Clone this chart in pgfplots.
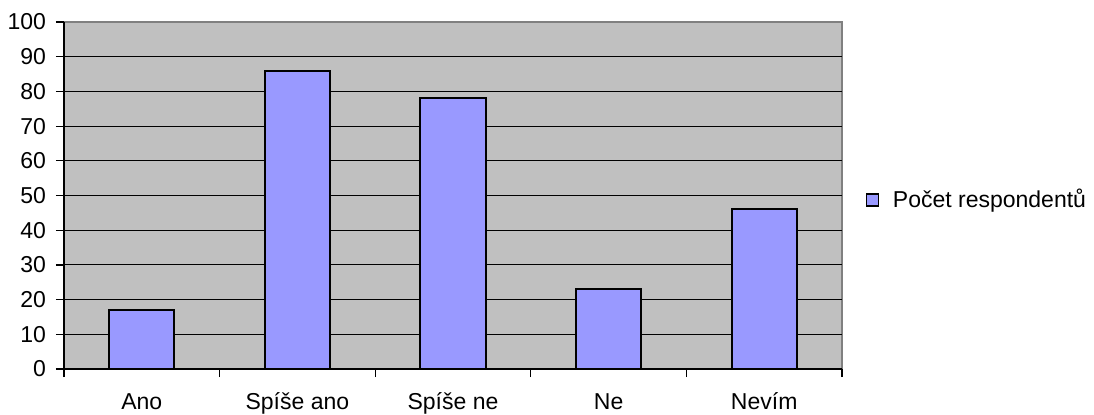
\documentclass[border=0pt]{standalone}
\usepackage{fontspec}
\setmainfont{Liberation Sans}
\usepackage{pgfplots}
\pgfplotsset{compat=1.18}

\definecolor{plotbg}{HTML}{C0C0C0}
\definecolor{plotedge}{HTML}{808080}
\definecolor{barfill}{HTML}{9999FF}

\begin{document}
\fontsize{11.5}{13}\selectfont
\begin{tikzpicture}
\begin{axis}[
    ybar,
    width=389pt, height=173.5pt,
    scale only axis,
    bar width=0.418,
    xmin=-0.5, xmax=4.5,
    ymin=0, ymax=100,
    axis x line*=bottom,
    axis y line*=left,
    axis line style={black, line width=0.6pt, -},
    axis background/.style={fill=plotbg, draw=plotedge, line width=1pt},
    xtick={0,1,2,3,4},
    xticklabels={Ano, Spíše ano, Spíše ne, Ne, Nevím},
    major x tick style={draw=none},
    minor xtick={-0.5,0.5,1.5,2.5,3.5,4.5},
    minor x tick style={black, line width=0.6pt},
    minor tick length=4pt,
    ytick={0,10,...,90},
    extra y ticks={100},
    extra y tick style={grid=none},
    ymajorgrids,
    y grid style={black, line width=0.5pt},
    major y tick style={black, line width=0.6pt},
    major tick length=4pt,
    tick align=outside,
    /pgf/number format/assume math mode=true,
    yticklabel style={xshift=-1pt},
    xticklabel style={anchor=base, yshift=-16pt},
    legend style={at={(1.03,0.487)}, anchor=west, draw=none, fill=none,
        inner sep=0pt},
    legend image code/.code={\draw[#1, line width=0.6pt] (0pt,-3pt) rectangle (6pt,3pt);},
]
\addplot[fill=barfill, draw=black, line width=1pt]
    coordinates {(0,17) (1,86) (2,78) (3,23) (4,46)};
\legend{\hspace{5pt}Počet respondentů}
\end{axis}
\pgfresetboundingbox
\path ([xshift=-32pt, yshift=-22.5pt]current axis.south west)
    rectangle ([xshift=126pt, yshift=11pt]current axis.north east);
\end{tikzpicture}
\end{document}
